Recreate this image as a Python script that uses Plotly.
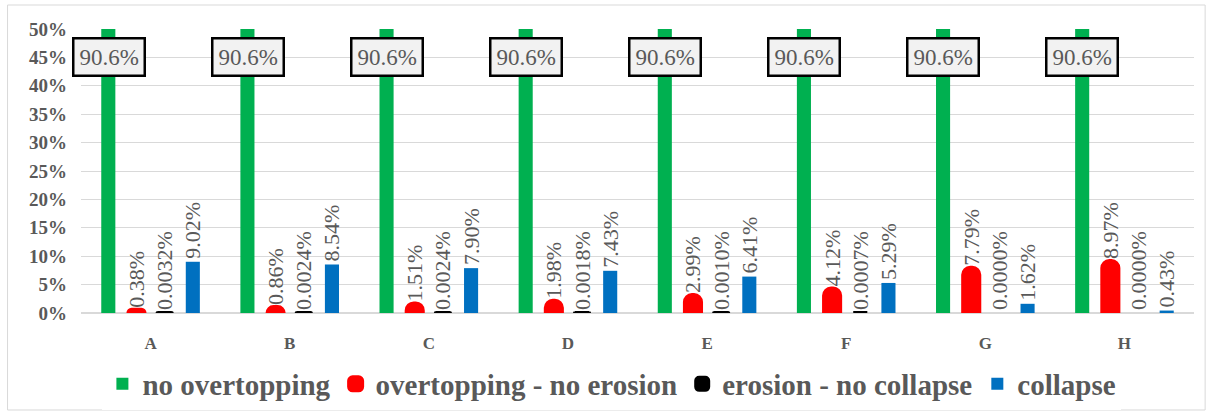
import plotly.graph_objects as go

categories = ["A", "B", "C", "D", "E", "F", "G", "H"]
no_overtopping = [0.906, 0.906, 0.906, 0.906, 0.906, 0.906, 0.906, 0.906]
overtopping_no_erosion = [0.0038, 0.0086, 0.0151, 0.0198, 0.0299, 0.0412, 0.0779, 0.0897]
erosion_no_collapse = [0.000032, 0.000024, 0.000024, 0.000018, 0.000010, 0.000007, 0.0, 0.0]
collapse = [0.0902, 0.0854, 0.0790, 0.0743, 0.0641, 0.0529, 0.0162, 0.0043]
green_label = "90.6%"

GREEN = "#00B050"
RED = "#FF0000"
BLACK = "#000000"
BLUE = "#0070C0"
GREY = "#595959"
SERIF = "Liberation Serif"

lbl_font = dict(family=SERIF, size=22, color=GREY)

fig = go.Figure()
fig.add_trace(go.Bar(name="no overtopping", x=categories, y=no_overtopping,
                     marker=dict(color=GREEN, line=dict(width=0))))
fig.add_trace(go.Bar(name="overtopping - no erosion", x=categories, y=overtopping_no_erosion,
                     marker=dict(color=RED, line=dict(color=RED, width=6), cornerradius=6),
                     texttemplate="%{y:.2%}", textposition="outside", textangle=-90,
                     textfont=lbl_font, cliponaxis=False, constraintext="none"))
fig.add_trace(go.Bar(name="erosion - no collapse", x=categories, y=erosion_no_collapse,
                     marker=dict(color=BLACK,
                                 line=dict(color=BLACK, width=[4 if v > 0 else 0 for v in erosion_no_collapse]),
                                 cornerradius=3),
                     texttemplate="%{y:.4%}", textposition="outside", textangle=-90,
                     textfont=lbl_font, cliponaxis=False, constraintext="none"))
fig.add_trace(go.Bar(name="collapse", x=categories, y=collapse,
                     marker=dict(color=BLUE, line=dict(width=0)),
                     texttemplate="%{y:.2%}", textposition="outside", textangle=-90,
                     textfont=lbl_font, cliponaxis=False, constraintext="none"))

for c in categories:
    fig.add_annotation(x=c, y=0.45, xref="x", yref="y", text=green_label, showarrow=False,
                       xshift=-42, font=dict(family=SERIF, size=23, color=GREY),
                       bgcolor="#F2F2F2", bordercolor="#000000", borderwidth=2.5, borderpad=5)

fig.add_shape(type="rect", xref="paper", yref="paper", x0=-0.066, x1=1.01, y0=-0.3415, y1=1.0845,
              line=dict(color="#D9D9D9", width=1), fillcolor="rgba(0,0,0,0)", layer="below")

fig.update_layout(
    width=1214, height=416,
    margin=dict(l=81, r=20, t=29, b=103, autoexpand=False),
    paper_bgcolor="white", plot_bgcolor="white",
    barmode="group", bargap=0.19, bargroupgap=0.5,
    showlegend=True,
    legend=dict(orientation="h", x=0.477, xanchor="center", y=-0.25, yanchor="middle",
                font=dict(family=SERIF, size=29, color=GREY, weight="bold"),
                itemwidth=30, traceorder="normal"),
    yaxis=dict(range=[0, 0.5], dtick=0.05, tickformat=".0%", showgrid=True,
               gridcolor="#D9D9D9", gridwidth=1, zeroline=True, zerolinecolor="#D9D9D9",
               tickfont=dict(family=SERIF, size=19, color=GREY, weight="bold"),
               ticklabelstandoff=13, automargin=False, fixedrange=True),
    xaxis=dict(range=[-0.5, 7.5], showline=False,
               tickfont=dict(family=SERIF, size=17, color=GREY, weight="bold"),
               ticklabelstandoff=18, automargin=False),
)

fig.write_html("out.html")
